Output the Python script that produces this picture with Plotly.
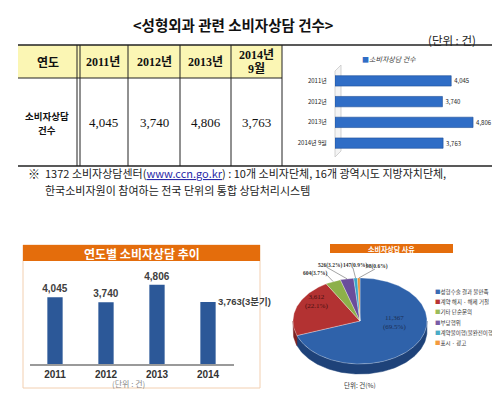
import numpy as np
import plotly.graph_objects as go

W, H = 500, 394


def px(x):
    return x / W


def py(y):
    return 1 - y / H


# ---------------- data ----------------
title_text = "<성형외과 관련 소비자상담 건수>"
unit_text = "(단위 : 건)"
table_header = ["연도", "2011년", "2012년", "2013년", "2014년<br>9월"]
row_label = "소비자상담<br>건수"
counts = [4045, 3740, 4806, 3763]
hbar_labels = ["2011년", "2012년", "2013년", "2014년 9월"]
hbar_series = "소비자상담 건수"
years = [2011, 2012, 2013, 2014]
last_suffix = "(3분기)"
trend_title = "연도별 소비자상담 추이"
trend_unit = "(단위 : 건)"
reasons = ["성형수술 결과 불만족", "계약 해지 · 해제 거절", "기타 단순문의", "부당행위",
           "계약불이행(불완전이행)", "표시 · 광고"]
reason_counts = [11367, 3612, 604, 526, 147, 98]
pie_title = "소비자상담 사유"
pie_unit = "단위: 건(%)"
note_mark = "※"
note_line1 = ("1372 소비자상담센터(<span style='text-decoration:underline;color:#2a2aa8'>www.ccn.go.kr</span>)"
              " : 10개 소비자단체, 16개 광역시도 지방자치단체,")
note_line2 = "한국소비자원이 참여하는 전국 단위의 통합 상담처리시스템"

SANS = "Noto Sans CJK KR"
SERIF = "Liberation Serif, Noto Sans CJK KR"

fig = go.Figure()
shapes = []
ann = []


def pa(**kw):
    d = dict(xref="paper", yref="paper", showarrow=False, xanchor="center", yanchor="middle")
    d.update(kw)
    ann.append(d)


def line(x0, y0, x1, y1, color="#222", width=1):
    shapes.append(dict(type="line", xref="paper", yref="paper", x0=px(x0), x1=px(x1), y0=py(y0), y1=py(y1),
                       line=dict(color=color, width=width)))


# ---------------- title ----------------
pa(x=px(225), y=py(17), text="<b>" + title_text.replace("<", "&lt;").replace(">", "&gt;") + "</b>",
   font=dict(family=SANS, size=14.5, color="#111"))
pa(x=px(470), y=py(32), text=unit_text, xanchor="right", font=dict(family=SANS, size=11.5, color="#222"))

# ---------------- table ----------------
col_edges = [10, 70.5, 120, 172, 223, 274]
t_top, t_head, t_bot = 37, 70, 158
shapes.append(dict(type="rect", xref="paper", yref="paper", x0=px(10), x1=px(274), y0=py(t_head), y1=py(t_top),
                   fillcolor="#fbf6b4", line=dict(width=0), layer="below"))
line(10, t_top, 484, t_top, width=1.3)
line(10, t_bot, 484, t_bot, width=1.3)
line(10, t_head, 274, t_head)
for xe in col_edges[1:]:
    for xx in ((69, 72) if xe == 70.5 else (xe,)):
        line(xx, t_top, xx, t_bot)
centers = [(col_edges[i] + col_edges[i + 1]) / 2 for i in range(5)]
for i, h in enumerate(table_header):
    parts = h.split("<br>")
    n = len(parts)
    for j, p in enumerate(parts):
        pa(x=px(centers[i]), y=py(54 + (j - (n - 1) / 2) * 14), text="<b>" + p + "</b>",
           font=dict(family=SANS if i == 0 else SERIF, size=12, color="#111"))
rparts = row_label.split("<br>")
for j, p in enumerate(rparts):
    pa(x=px(centers[0] - 1), y=py(115 + (j - (len(rparts) - 1) / 2) * 15), text="<b>" + p + "</b>",
       font=dict(family=SANS, size=9.5, color="#111"))
for i, v in enumerate(counts):
    pa(x=px(centers[i + 1]), y=py(115), text=f"{v:,}", font=dict(family=SERIF, size=13, color="#111"))

# ---------------- horizontal bar (top right) ----------------
shapes.append(dict(type="path", xref="paper", yref="paper",
                   path=f"M {px(327)},{py(63)} L {px(333)},{py(57)} L {px(333)},{py(143)} L {px(327)},{py(149)} Z",
                   fillcolor="#f4f4f4", line=dict(color="#c8c8c8", width=0.8), layer="below"))
fig.add_trace(go.Bar(x=counts, y=hbar_labels, orientation="h", xaxis="x", yaxis="y",
                     marker=dict(color="#2f6dc6", line=dict(color="#1d4d96", width=0.6)),
                     text=[f"{v:,}" for v in counts], textposition="outside", constraintext="none",
                     textfont=dict(family=SANS, size=6, color="#222"), cliponaxis=False,
                     hoverinfo="skip", showlegend=False))
pa(x=px(352), y=py(51), xanchor="left",
   text="<span style='color:#2f6dc6'>■</span><i>" + hbar_series + "</i>",
   font=dict(family=SANS, size=7, color="#333"))

# ---------------- bottom-left bar chart ----------------
shapes.append(dict(type="rect", xref="paper", yref="paper", x0=px(15), x1=px(252), y0=py(380), y1=py(237),
                   fillcolor="white", line=dict(color="#f2cfb0", width=1), layer="below"))
shapes.append(dict(type="rect", xref="paper", yref="paper", x0=px(15), x1=px(252), y0=py(253), y1=py(237),
                   fillcolor="#e46d0c", line=dict(width=0), layer="below"))
pa(x=px(134), y=py(245), text="<b>" + trend_title + "</b>", font=dict(family=SANS, size=12, color="white"))
fig.add_trace(go.Bar(x=years, y=counts, xaxis="x2", yaxis="y2", width=0.3,
                     marker=dict(color="#2c5898", line=dict(width=0)),
                     text=[f"<b>{v:,}</b>" for v in counts[:-1]] + [""],
                     textposition="outside", constraintext="none",
                     textfont=dict(family="Liberation Sans", size=10, color="#404040"),
                     cliponaxis=False, hoverinfo="skip", showlegend=False))
ann.append(dict(x=years[-1], y=counts[-1], xref="x2", yref="y2", xanchor="left", yanchor="middle",
                xshift=8, text=f"<b>{counts[-1]:,}{last_suffix}</b>", showarrow=False,
                font=dict(family="Liberation Sans, " + SANS, size=9.5, color="#404040")))
pa(x=px(120), y=py(375), text=trend_unit, font=dict(family=SANS, size=8, color="#8a8a8a"))

# ---------------- pie (bottom right) ----------------
shapes.append(dict(type="rect", xref="paper", yref="paper", x0=px(322), x1=px(445), y0=py(245), y1=py(236),
                   fillcolor="#e46d0c", line=dict(width=0), layer="below"))
pa(x=px(383.5), y=py(240.5), text="<b>" + pie_title + "</b>", font=dict(family=SANS, size=7, color="white"))

top_cols = ["#2f62aa", "#b33232", "#8db04a", "#6a4d9b", "#3aa6c9", "#e8902f"]
side_cols = ["#1e4279", "#7e2020", "#607d2e", "#46306c", "#23768f", "#a86020"]
leg_cols = ["#3a6bb3", "#b83434", "#9bbb59", "#7a5ca6", "#4bacc6", "#f39a3e"]
cx, cy, rx, ry, depth = 352, 313, 67, 43, 10
total = sum(reason_counts)
fr = np.array(reason_counts) / total
ends = np.cumsum(fr) * 2 * np.pi
starts = ends - fr * 2 * np.pi


def arc(a0, a1):
    n = max(4, int((a1 - a0) / 0.02))
    t = np.linspace(a0, a1, n)
    return cx + rx * np.sin(t), cy - ry * np.cos(t)


for a0, a1, c in zip(starts, ends, side_cols):
    s0, s1 = max(a0, np.pi / 2), min(a1, 3 * np.pi / 2)
    if s1 > s0:
        xs, ys = arc(s0, s1)
        X = np.concatenate([xs, xs[::-1], xs[:1]])
        Y = np.concatenate([ys, ys[::-1] + depth, ys[:1]])
        fig.add_trace(go.Scatter(x=X, y=Y, xaxis="x3", yaxis="y3", mode="lines", fill="toself",
                                 fillcolor=c, line=dict(color=c, width=0.5),
                                 hoverinfo="skip", showlegend=False))
for a0, a1, c in zip(starts, ends, top_cols):
    xs, ys = arc(a0, a1)
    X = np.concatenate([[cx], xs, [cx]])
    Y = np.concatenate([[cy], ys, [cy]])
    fig.add_trace(go.Scatter(x=X, y=Y, xaxis="x3", yaxis="y3", mode="lines", fill="toself",
                             fillcolor=c, line=dict(color="rgba(255,255,255,0.6)", width=0.5),
                             hoverinfo="skip", showlegend=False))

pct = [v / total * 100 for v in reason_counts]
inside_pos = [(386, 314), (308, 293)]
inside_col = ["#1c2f55", "#4a1010"]
for i, (lx, ly) in enumerate(inside_pos):
    ann.append(dict(x=lx, y=ly, xref="x3", yref="y3", showarrow=False,
                    text=f"{reason_counts[i]:,}<br>({pct[i]:.1f}%)",
                    font=dict(family=SERIF, size=7, color=inside_col[i])))
out_pos = [(307, 265), (322, 257), (347, 257), (369, 258)]
for k, (lx, ly) in enumerate(out_pos):
    i = k + 2
    mid = (starts[i] + ends[i]) / 2
    ex, ey = cx + rx * np.sin(mid), cy - ry * np.cos(mid)
    ann.append(dict(x=lx, y=ly, xref="x3", yref="y3", showarrow=False,
                    text=f"<b>{reason_counts[i]:,}({pct[i]:.1f}%)</b>",
                    font=dict(family=SERIF, size=5.5, color="#333")))
    sx = lx + 11 if k == 0 else lx - 2
    sy = ly + 1 if k == 0 else ly + 3
    fig.add_trace(go.Scatter(x=[sx, ex], y=[sy, ey], xaxis="x3", yaxis="y3", mode="lines",
                             line=dict(color="#666", width=0.6), hoverinfo="skip", showlegend=False))
pa(x=px(352), y=py(377), text=pie_unit, font=dict(family=SANS, size=6.5, color="#333"))
for i, (name, c) in enumerate(zip(reasons, leg_cols)):
    pa(x=px(425), y=py(284 + 10.2 * i), xanchor="left",
       text=f"<span style='color:{c}'>■</span>{name}", font=dict(family=SANS, size=5.5, color="#333"))

# ---------------- note ----------------
pa(x=px(18), y=py(165), xanchor="left", text=note_mark, font=dict(family=SANS, size=12, color="#111"))
pa(x=px(35), y=py(165), xanchor="left", text=note_line1, font=dict(family=SANS, size=11, color="#222"))
pa(x=px(35), y=py(182), xanchor="left", text=note_line2, font=dict(family=SANS, size=11, color="#222"))

hidden = dict(visible=False, fixedrange=True, automargin=False)
fig.update_layout(
    width=W, height=H, margin=dict(l=0, r=0, t=0, b=0, pad=0), autosize=False,
    paper_bgcolor="white", plot_bgcolor="rgba(0,0,0,0)", showlegend=False,
    bargap=0.5,
    xaxis=dict(domain=[px(327), px(485)], range=[0, 5500], **hidden),
    yaxis=dict(domain=[py(145.5), py(62.5)], autorange="reversed", showgrid=False, zeroline=False,
               ticks="outside", ticklen=6, tickcolor="rgba(0,0,0,0)", automargin=False,
               tickfont=dict(family=SANS, size=6, color="#222"), fixedrange=True),
    xaxis2=dict(domain=[px(21.5), px(225.5)], anchor="y2", range=[2010.5, 2014.5], tickvals=years,
                showline=True, linecolor="#9a9a9a", linewidth=1.5, showgrid=False, zeroline=False,
                ticks="", automargin=False, tickformat="d",
                tickfont=dict(family="Liberation Sans", size=10, color="#333", weight="bold"),
                fixedrange=True),
    yaxis2=dict(domain=[py(356), py(257)], anchor="x2", range=[0, 6000], **hidden),
    xaxis3=dict(domain=[px(270), px(425)], anchor="y3", range=[270, 425], **hidden),
    yaxis3=dict(domain=[py(375), py(250)], anchor="x3", range=[375, 250], **hidden),
    shapes=shapes, annotations=ann,
)

fig.write_html("out.html", config=dict(displayModeBar=False))
